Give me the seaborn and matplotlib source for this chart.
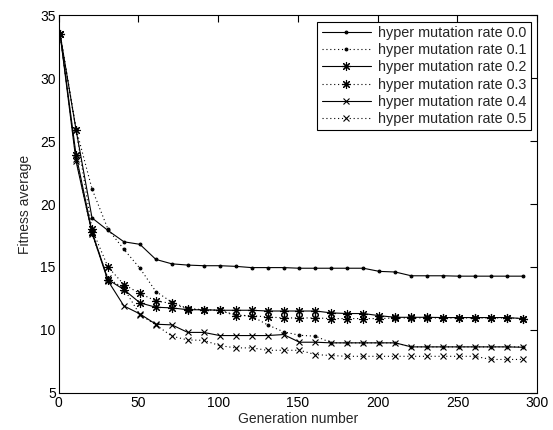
import matplotlib
matplotlib.use("Agg")
import matplotlib.pyplot as plt
import seaborn as sns

# generation numbers where the fitness was logged
generations = [1, 11, 21, 31, 41, 51, 61, 71, 81, 91,
               101, 111, 121, 131, 141, 151, 161, 171, 181, 191,
               201, 211, 221, 231, 241, 251, 261, 271, 281, 291]

# fitness average per hyper mutation rate
rate_00 = [33.5, 25.9, 18.9, 17.9, 17.0, 16.8, 15.6, 15.25, 15.15, 15.1,
           15.1, 15.05, 14.95, 14.95, 14.95, 14.9, 14.9, 14.9, 14.9, 14.9,
           14.65, 14.6, 14.3, 14.3, 14.3, 14.27, 14.27, 14.27, 14.27, 14.27]
rate_01 = [33.5, 26.0, 21.2, 18.0, 16.4, 14.9, 13.05, 12.2, 11.7, 11.6,
           11.55, 11.2, 11.1, 10.4, 9.85, 9.57, 9.5, 8.97, 8.97, 8.97,
           8.97, 8.97, 8.65, 8.65, 8.65, 8.65, 8.65, 8.65, 8.65, 8.65]
rate_02 = [33.5, 23.9, 17.8, 14.0, 13.2, 12.15, 11.8, 11.75, 11.6, 11.6,
           11.56, 11.56, 11.56, 11.5, 11.5, 11.5, 11.5, 11.35, 11.3, 11.3,
           11.13, 11.0, 11.0, 11.0, 10.98, 10.98, 10.98, 10.98, 10.98, 10.9]
rate_03 = [33.5, 25.9, 18.0, 15.0, 13.6, 12.9, 12.3, 12.1, 11.65, 11.6,
           11.56, 11.13, 11.13, 11.03, 10.95, 10.95, 10.95, 10.9, 10.9, 10.9,
           10.9, 10.95, 10.95, 10.95, 10.95, 10.95, 10.95, 10.95, 10.95, 10.9]
rate_04 = [33.5, 23.4, 17.7, 13.9, 11.9, 11.27, 10.45, 10.4, 9.8, 9.8,
           9.55, 9.55, 9.55, 9.55, 9.63, 9.02, 9.02, 8.97, 8.97, 8.97,
           8.97, 8.97, 8.65, 8.65, 8.65, 8.65, 8.65, 8.65, 8.65, 8.62]
rate_05 = [33.5, 23.6, 17.6, 14.1, 13.3, 11.2, 10.4, 9.5, 9.2, 9.17,
           8.75, 8.57, 8.57, 8.38, 8.38, 8.38, 8.04, 7.96, 7.9, 7.9,
           7.9, 7.9, 7.9, 7.9, 7.9, 7.9, 7.9, 7.65, 7.65, 7.65]

labels = ["hyper mutation rate 0.0", "hyper mutation rate 0.1",
          "hyper mutation rate 0.2", "hyper mutation rate 0.3",
          "hyper mutation rate 0.4", "hyper mutation rate 0.5"]
series = [rate_00, rate_01, rate_02, rate_03, rate_04, rate_05]

asterisk = (8, 2, 0)
dotted = (0, (1, 2.5))
styles = [("-", ".", 4), (dotted, ".", 4),
          ("-", asterisk, 6.5), (dotted, asterisk, 6.5),
          ("-", "x", 5), (dotted, "x", 5)]

sns.set_style("white")
plt.rcParams["font.family"] = ["Liberation Sans", "DejaVu Sans"]

fig = plt.figure(figsize=(5.53, 4.30), dpi=100)
ax = fig.add_axes([0.1058, 0.0865, 0.8658, 0.8779])

for vals, lab, (ls, mk, ms) in zip(series, labels, styles):
    sns.lineplot(x=generations, y=vals, ax=ax, color="black", linewidth=0.8,
                 linestyle=ls, marker=mk, markersize=ms, markeredgewidth=0.8,
                 markeredgecolor="black", markerfacecolor="black", label=lab)

ax.set_xlim(0, 300)
ax.set_ylim(5, 35)
ax.set_xticks([0, 50, 100, 150, 200, 250, 300])
ax.set_yticks([5, 10, 15, 20, 25, 30, 35])
ax.set_xlabel("Generation number", fontsize=10, labelpad=1.5)
ax.set_ylabel("Fitness average", fontsize=10, labelpad=6)
ax.tick_params(direction="in", top=True, right=True, length=5, width=0.8,
               labelsize=10, pad=2, colors="black")
for sp in ax.spines.values():
    sp.set_color("black")
    sp.set_linewidth(0.8)

leg = ax.legend(loc="upper right", fontsize=10.4, frameon=True, fancybox=False,
                edgecolor="black", framealpha=1, handlelength=3.4,
                labelspacing=0.22, borderpad=0.3, handletextpad=0.5,
                borderaxespad=0.45)
leg.get_frame().set_linewidth(0.8)

fig.savefig("out.png", dpi=100)
